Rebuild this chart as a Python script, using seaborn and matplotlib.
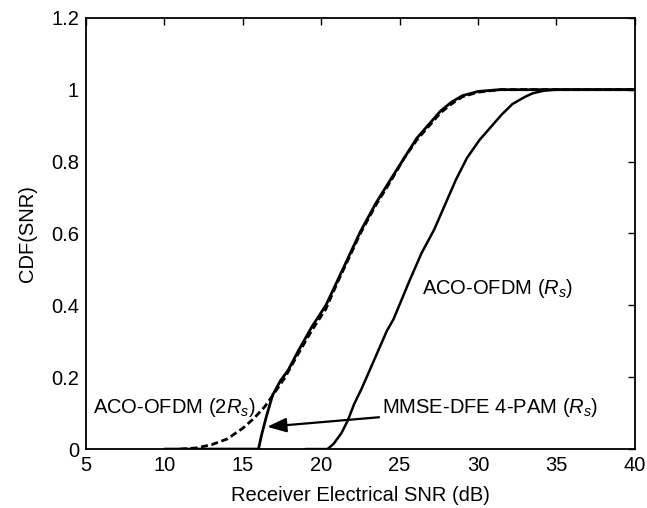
import matplotlib
matplotlib.use("Agg")
import matplotlib.pyplot as plt
import seaborn as sns
import pandas as pd

# ---- data ----
aco2_x = [11.0, 12.0, 13.0, 14.0, 15.0, 15.7, 16.4, 17.0, 17.7, 18.4, 19.4, 20.3, 21.0,
          22.5, 23.5, 24.5, 25.3, 26.1, 27.0, 27.6, 28.3, 29.0, 30.0, 31.4, 40.0]
aco2_y = [0.0, 0.003, 0.012, 0.028, 0.058, 0.085, 0.118, 0.155, 0.20, 0.255, 0.33, 0.39, 0.46,
          0.60, 0.68, 0.75, 0.81, 0.86, 0.905, 0.935, 0.96, 0.98, 0.993, 1.0, 1.0]

mmse_x = [10.0, 16.0, 16.2, 16.5, 16.9, 17.4, 17.9, 18.5, 19.4, 20.3, 21.0, 22.5, 23.5,
          24.5, 25.3, 26.1, 27.0, 27.6, 28.3, 29.0, 30.0, 31.4, 40.0]
mmse_y = [0.0, 0.0, 0.04, 0.09, 0.15, 0.19, 0.22, 0.27, 0.34, 0.40, 0.465, 0.605, 0.685,
          0.755, 0.81, 0.865, 0.91, 0.94, 0.965, 0.983, 0.995, 1.0, 1.0]

aco1_x = [19.0, 20.4, 20.8, 21.3, 21.7, 22.1, 22.6, 23.05, 23.6, 24.2, 24.6, 25.65, 26.4,
          27.2, 28.0, 28.6, 29.3, 30.1, 30.9, 31.5, 32.2, 33.0, 33.5, 34.2, 35.0, 40.0]
aco1_y = [0.0, 0.0, 0.015, 0.045, 0.08, 0.125, 0.17, 0.215, 0.27, 0.33, 0.36, 0.47, 0.545,
          0.61, 0.69, 0.75, 0.81, 0.86, 0.90, 0.93, 0.96, 0.98, 0.99, 0.997, 1.0, 1.0]

x_ticks = [5, 10, 15, 20, 25, 30, 35, 40]
y_ticks = [0, 0.2, 0.4, 0.6, 0.8, 1.0, 1.2]
y_tick_labels = ["0", "0.2", "0.4", "0.6", "0.8", "1", "1.2"]

sns.set_theme(style="white")
plt.rcParams["font.family"] = ["Liberation Sans", "DejaVu Sans"]
plt.rcParams["mathtext.fontset"] = "custom"
plt.rcParams["mathtext.rm"] = "Liberation Sans"
plt.rcParams["mathtext.it"] = "Liberation Sans:italic"
plt.rcParams["text.color"] = "black"
plt.rcParams["axes.labelcolor"] = "black"

FS = 14.5

fig = plt.figure(figsize=(6.47, 5.08), dpi=100)
ax = fig.add_axes([0.133, 0.116, 0.848, 0.849])

df_aco2 = pd.DataFrame({"x": aco2_x, "y": aco2_y})
df_mmse = pd.DataFrame({"x": mmse_x, "y": mmse_y})
df_aco1 = pd.DataFrame({"x": aco1_x, "y": aco1_y})

sns.lineplot(data=df_aco1, x="x", y="y", ax=ax, color="black", lw=1.8,
             sort=False, estimator=None)
sns.lineplot(data=df_mmse, x="x", y="y", ax=ax, color="black", lw=2.0,
             sort=False, estimator=None)
sns.lineplot(data=df_aco2, x="x", y="y", ax=ax, color="black", lw=2.0,
             sort=False, estimator=None, linestyle=(0, (2.5, 1.3)))

ax.set_xlim(5, 40)
ax.set_ylim(0, 1.2)
ax.set_xticks(x_ticks)
ax.set_xticklabels([str(t) for t in x_ticks])
ax.set_yticks(y_ticks)
ax.set_yticklabels(y_tick_labels)
ax.tick_params(direction="in", length=5, width=1, top=True, right=True,
               labelsize=FS, colors="black", pad=5)
for s in ax.spines.values():
    s.set_color("black")
    s.set_linewidth(1.3)

ax.set_xlabel("Receiver Electrical SNR (dB)", fontsize=FS, labelpad=8)
ax.set_ylabel("CDF(SNR)", fontsize=FS, labelpad=10)

ax.text(5.45, 0.115, r"ACO-OFDM (2$R_s$)", fontsize=FS, va="center", ha="left")
ax.text(26.4, 0.447, r"ACO-OFDM ($R_s$)", fontsize=FS, va="center", ha="left")
ax.annotate(r"MMSE-DFE 4-PAM ($R_s$)", xy=(16.55, 0.062), xytext=(23.9, 0.115),
            fontsize=FS, va="center", ha="left",
            arrowprops=dict(arrowstyle="-|>,head_length=0.8,head_width=0.3",
                            color="black", lw=1.6, shrinkA=0, shrinkB=0))

fig.savefig("out.png", dpi=100)
